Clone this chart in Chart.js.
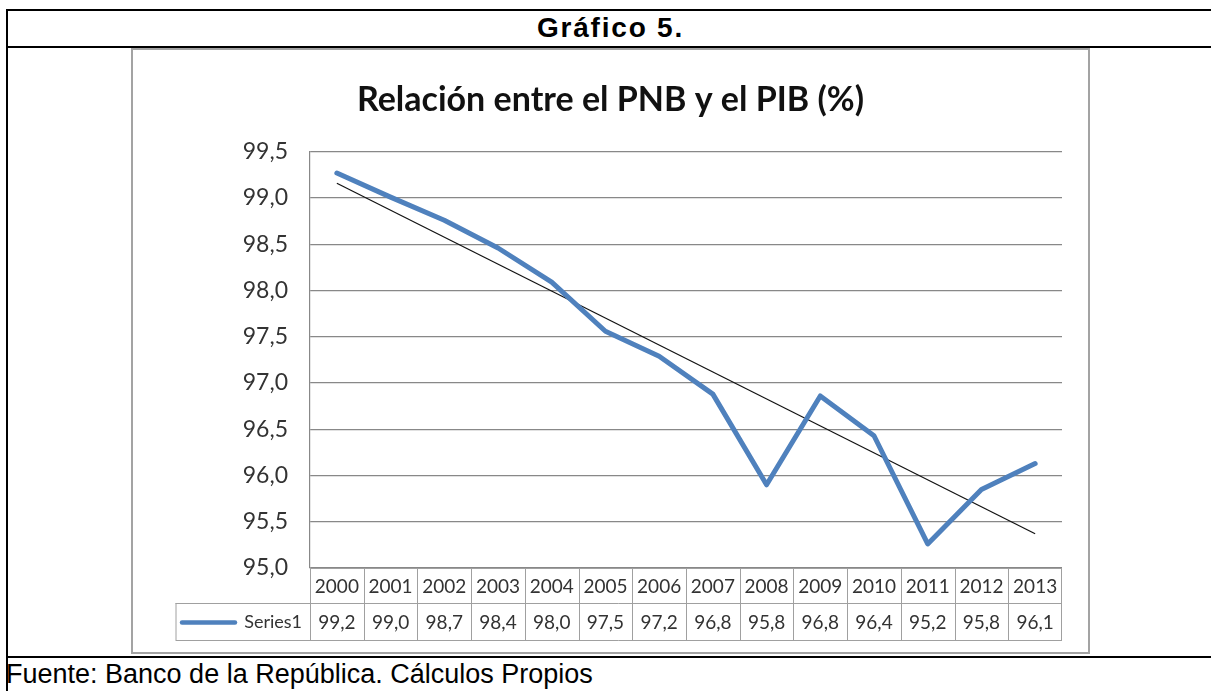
<!DOCTYPE html>
<html>
<head>
<meta charset="utf-8">
<script src="https://cdn.jsdelivr.net/npm/chart.js@4/dist/chart.umd.min.js"></script>
<style>
  body { margin: 0; background: #fff; width: 1211px; height: 691px; overflow: hidden; position: relative; font-family: "Liberation Sans", Arial, sans-serif; }
  .hline { position: absolute; left: 6px; right: 0; height: 2px; background: #000; }
  .vline { position: absolute; left: 6px; top: 9px; width: 2px; bottom: 0; background: #000; }
  #heading { position: absolute; left: 6px; width: 1209px; top: 14px; line-height: 28px; text-align: center; font-weight: bold; font-size: 28px; letter-spacing: 1.8px; color: #000; }
  #footer { position: absolute; left: 6px; top: 661px; line-height: 27px; font-size: 27px; color: #000; white-space: nowrap; }
  #frame { position: absolute; left: 131px; top: 48px; width: 959px; height: 606px; box-sizing: border-box; border: 2px solid #a3a3a3; background: #fff; }
  #frame canvas { display: block; }
</style>
</head>
<body>
<div class="hline" style="top:9px"></div>
<div class="hline" style="top:46px"></div>
<div class="hline" style="top:656px"></div>
<div class="vline"></div>
<div id="heading">Gráfico 5.</div>
<div id="frame"><canvas id="pnbChart" width="955" height="602"></canvas></div>
<div id="footer">Fuente: Banco de la República. Cálculos Propios</div>

<script>
// datos
const years = ['2000', '2001', '2002', '2003', '2004', '2005', '2006', '2007', '2008', '2009', '2010', '2011', '2012', '2013'];
const pnbPib = [99.27, 99.01, 98.76, 98.46, 98.09, 97.56, 97.29, 96.88, 95.90, 96.86, 96.43, 95.26, 95.85, 96.13];
const tableValues = [99.2, 99.0, 98.7, 98.4, 98.0, 97.5, 97.2, 96.8, 95.8, 96.8, 96.4, 95.2, 95.8, 96.1];
const trendLine = [99.16, null, null, null, null, null, null, null, null, null, null, null, null, 95.37];
const yMin = 95, yMax = 99.5, yStep = 0.5;
const seriesName = 'Series1';

const fmt = v => v.toFixed(1).replace('.', ',');

// tabla de datos debajo del eje (categorías + valores)
const dataTable = {
    id: 'dataTable',
    afterDraw(chart) {
        const ctx = chart.ctx;
        const area = chart.chartArea;
        const x = chart.scales.x;
        const cw = x.getPixelForValue(1) - x.getPixelForValue(0);
        const y0 = area.bottom, y1 = y0 + 35, y2 = y1 + 37;
        const legendLeft = 42.5;

        ctx.save();
        ctx.strokeStyle = '#a0a0a0';
        ctx.lineWidth = 1;
        ctx.beginPath();
        ctx.moveTo(area.left, y0 + 0.5); ctx.lineTo(area.right, y0 + 0.5);
        ctx.moveTo(legendLeft, y1 + 0.5); ctx.lineTo(area.right, y1 + 0.5);
        ctx.moveTo(legendLeft, y2 + 0.5); ctx.lineTo(area.right, y2 + 0.5);
        ctx.moveTo(legendLeft + 0.5, y1); ctx.lineTo(legendLeft + 0.5, y2);
        years.forEach((yr, i) => {
            const bx = Math.round(x.getPixelForValue(i) - cw / 2) + 0.5;
            ctx.moveTo(bx, y0); ctx.lineTo(bx, y2);
        });
        const rx = Math.round(x.getPixelForValue(years.length - 1) + cw / 2) - 0.5;
        ctx.moveTo(rx, y0); ctx.lineTo(rx, y2);
        ctx.stroke();

        ctx.fillStyle = '#333';
        ctx.font = '19px Lato';
        ctx.textAlign = 'center';
        ctx.textBaseline = 'middle';
        years.forEach((yr, i) => {
            const cx = x.getPixelForValue(i);
            ctx.fillText(yr, cx, (y0 + y1) / 2 + 1);
            ctx.fillText(fmt(tableValues[i]), cx, (y1 + y2) / 2 + 1);
        });

        // leyenda
        ctx.strokeStyle = '#4F81BD';
        ctx.lineWidth = 4.5;
        ctx.lineCap = 'round';
        ctx.beginPath();
        ctx.moveTo(49, (y1 + y2) / 2 + 1);
        ctx.lineTo(102, (y1 + y2) / 2 + 1);
        ctx.stroke();
        ctx.font = '18px Lato';
        ctx.textAlign = 'right';
        ctx.fillText(seriesName, area.left - 8, (y1 + y2) / 2 + 1);
        ctx.restore();
    }
};

new Chart(document.getElementById('pnbChart'), {
    type: 'line',
    data: {
        labels: years,
        datasets: [
            { label: seriesName, data: pnbPib, borderColor: '#4F81BD', borderWidth: 5, pointRadius: 0, tension: 0, borderJoinStyle: 'round', borderCapStyle: 'round' },
            { label: 'Tendencia', data: trendLine, borderColor: '#111', borderWidth: 1.2, pointRadius: 0, spanGaps: true }
        ]
    },
    options: {
        responsive: false,
        animation: false,
        devicePixelRatio: 1,
        layout: { padding: { left: 26, right: 26, top: 0, bottom: 84 } },
        plugins: {
            legend: { display: false },
            tooltip: { enabled: false },
            title: {
                display: true,
                text: 'Relación entre el PNB y el PIB (%)',
                color: '#111',
                font: { family: 'Lato', size: 34, weight: 'bold', lineHeight: 1.2 },
                padding: { top: 30, bottom: 31 }
            }
        },
        scales: {
            x: { display: false, offset: true },
            y: {
                min: yMin, max: yMax,
                afterFit: s => { s.width = 151; },
                ticks: { stepSize: yStep, padding: 22, color: '#333', font: { family: 'Lato', size: 23 }, callback: v => fmt(v) },
                grid: { color: '#888', lineWidth: 1.2, drawTicks: false },
                border: { display: true, color: '#888', width: 1.2 }
            }
        }
    },
    plugins: [dataTable]
});
</script>
</body>
</html>
